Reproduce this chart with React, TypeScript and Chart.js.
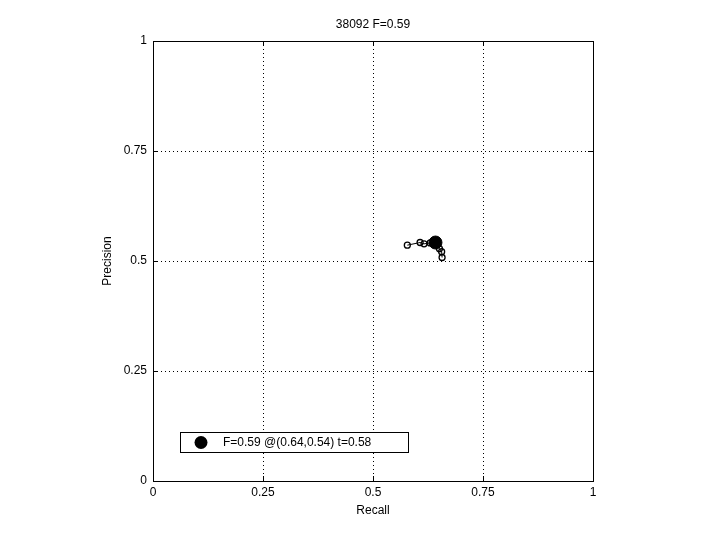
import React, { useEffect, useRef } from "react";
import { Chart, registerables } from "chart.js";

Chart.register(...registerables);

const titleText = "38092 F=0.59";
const xLabel = "Recall";
const yLabel = "Precision";
const tickValues = [0, 0.25, 0.5, 0.75, 1];
const tickLabels = ["0", "0.25", "0.5", "0.75", "1"];
const recall = [0.578, 0.607, 0.616, 0.63, 0.642, 0.651, 0.656, 0.657];
const precision = [0.536, 0.542, 0.539, 0.541, 0.542, 0.528, 0.521, 0.508];
const bestRecall = [0.642];
const bestPrecision = [0.542];
const legendText = "F=0.59 @(0.64,0.54) t=0.58";

const FONT = "'Liberation Sans', Arial, sans-serif";

export default function App() {
  const ref = useRef<HTMLCanvasElement | null>(null);
  useEffect(() => {
    if (!ref.current) return;
    const decor = {
      id: "decor",
      afterDraw(chart: any) {
        const { ctx, chartArea } = chart;
        const { left, right, top, bottom } = chartArea;
        const xs = chart.scales.x;
        const ys = chart.scales.y;
        ctx.save();
        ctx.strokeStyle = "#000";
        ctx.lineWidth = 1;
        ctx.setLineDash([]);
        ctx.beginPath();
        tickValues.forEach((v) => {
          const px = Math.round(xs.getPixelForValue(v)) + 0.5;
          ctx.moveTo(px, bottom);
          ctx.lineTo(px, bottom - 5);
          ctx.moveTo(px, top);
          ctx.lineTo(px, top + 5);
          const py = Math.round(ys.getPixelForValue(v)) + 0.5;
          ctx.moveTo(left, py);
          ctx.lineTo(left + 5, py);
          ctx.moveTo(right, py);
          ctx.lineTo(right - 5, py);
        });
        ctx.stroke();
        ctx.strokeRect(Math.round(left) + 0.5, Math.round(top) + 0.5, Math.round(right - left), Math.round(bottom - top));
        ctx.fillStyle = "#000";
        ctx.font = `12px ${FONT}`;
        ctx.textAlign = "center";
        ctx.textBaseline = "middle";
        const cx = (left + right) / 2;
        ctx.fillText(titleText, cx, top - 16);
        ctx.fillText(xLabel, cx, bottom + 30);
        ctx.save();
        ctx.translate(left - 45, (top + bottom) / 2);
        ctx.rotate(-Math.PI / 2);
        ctx.fillText(yLabel, 0, 0);
        ctx.restore();
        const lx = left + 27;
        const ly = bottom - 49;
        const lw = 228;
        const lh = 20;
        ctx.fillStyle = "#fff";
        ctx.fillRect(lx, ly, lw, lh);
        ctx.strokeStyle = "#000";
        ctx.strokeRect(lx + 0.5, ly + 0.5, lw, lh);
        ctx.fillStyle = "#000";
        ctx.beginPath();
        ctx.arc(lx + 21, ly + lh / 2 + 0.5, 6.5, 0, Math.PI * 2);
        ctx.fill();
        ctx.textAlign = "left";
        ctx.fillText(legendText, lx + 43, ly + lh / 2 + 1);
        ctx.restore();
      },
    };
    const gridColor = (c: any) =>
      c.tick && (c.tick.value === 0 || c.tick.value === 1) ? "rgba(0,0,0,0)" : "#000";
    const chart = new Chart(ref.current, {
      type: "scatter",
      data: {
        datasets: [
          {
            label: "best",
            data: bestRecall.map((x, i) => ({ x, y: bestPrecision[i] })),
            pointRadius: 6.5,
            pointBackgroundColor: "#000",
            pointBorderColor: "#000",
            showLine: false,
          },
          {
            label: "curve",
            data: recall.map((x, i) => ({ x, y: precision[i] })),
            showLine: true,
            borderColor: "#000",
            borderWidth: 1,
            pointRadius: 3,
            pointBackgroundColor: "rgba(0,0,0,0)",
            pointBorderColor: "#000",
            pointBorderWidth: 1.3,
          },
        ],
      },
      options: {
        animation: false,
        responsive: false,
        devicePixelRatio: 1,
        layout: { padding: { left: 0, right: 127, top: 41, bottom: 0 } },
        plugins: { legend: { display: false }, tooltip: { enabled: false }, title: { display: false } },
        scales: {
          x: {
            type: "linear",
            min: 0,
            max: 1,
            afterFit: (s: any) => { s.height = 59; },
            afterBuildTicks: (s: any) => { s.ticks = tickValues.map((v) => ({ value: v })); },
            border: { display: false, dash: [1, 3] },
            grid: { drawTicks: false, color: gridColor, lineWidth: 1 },
            ticks: {
              color: "#000",
              font: { family: FONT, size: 12 },
              padding: 4,
              maxRotation: 0,
              autoSkip: false,
              callback: (v: any) => tickLabels[tickValues.indexOf(Number(v))] ?? "",
            },
          },
          y: {
            type: "linear",
            min: 0,
            max: 1,
            afterFit: (s: any) => { s.width = 153; },
            afterBuildTicks: (s: any) => { s.ticks = tickValues.map((v) => ({ value: v })); },
            border: { display: false, dash: [1, 3] },
            grid: { drawTicks: false, color: gridColor, lineWidth: 1 },
            ticks: {
              color: "#000",
              font: { family: FONT, size: 12 },
              padding: 6,
              autoSkip: false,
              callback: (v: any) => tickLabels[tickValues.indexOf(Number(v))] ?? "",
            },
          },
        },
      },
      plugins: [decor],
    });
    return () => chart.destroy();
  }, []);
  return (
    <div style={{ position: "fixed", left: 0, top: 0, width: 720, height: 540, background: "#fff" }}>
      <canvas ref={ref} width={720} height={540} style={{ width: 720, height: 540 }} />
    </div>
  );
}
